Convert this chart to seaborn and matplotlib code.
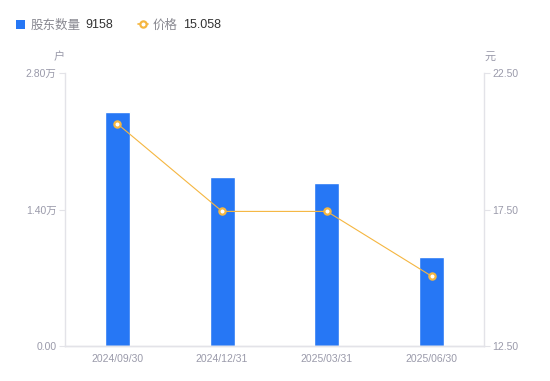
import matplotlib
matplotlib.use("Agg")
import matplotlib.pyplot as plt
import seaborn as sns
import pandas as pd
from matplotlib.patches import Rectangle
from matplotlib.lines import Line2D

# data
dates = ["2024/09/30", "2024/12/31", "2025/03/31", "2025/06/30"]
holders = [24000, 17360, 16750, 9158]
price = [20.64, 17.43, 17.43, 15.058]

bar_color = "#2677F5"
line_color = "#F5B640"
tick_color = "#9A9AAA"
axis_color = "#E3E3E8"

sns.set_style("white")
plt.rcParams["font.family"] = ["Liberation Sans", "Noto Sans CJK SC", "DejaVu Sans"]

df = pd.DataFrame({"date": dates, "holders": holders, "price": price})

fig = plt.figure(figsize=(5.5, 3.81), dpi=100)
ax = fig.add_axes([65 / 550, 35 / 381, 419 / 550, 273 / 381])
ax2 = ax.twinx()

sns.barplot(data=df, x="date", y="holders", color=bar_color, width=0.24,
            saturation=1, ax=ax)
sns.pointplot(data=df, x="date", y="price", color=line_color, ax=ax2,
              markers="o", linewidth=0.8,
              markersize=4.5, markerfacecolor="white",
              markeredgecolor=line_color, markeredgewidth=1.6)

ax.set_xlim(-0.5, 3.5)
ax2.set_xlim(-0.5, 3.5)
ax.set_ylim(0, 28000)
ax2.set_ylim(12.5, 22.5)

ax.set_yticks([0, 14000, 28000])
ax.set_yticklabels(["0.00", "1.40万", "2.80万"])
ax2.set_yticks([12.5, 17.5, 22.5])
ax2.set_yticklabels(["12.50", "17.50", "22.50"])

for a in (ax, ax2):
    a.set_xlabel("")
    a.set_ylabel("")
    a.spines["top"].set_visible(False)
    for s in ("left", "right", "bottom"):
        a.spines[s].set_color(axis_color)
        a.spines[s].set_linewidth(1)
    a.tick_params(axis="y", length=4, width=0.8, color=axis_color,
                  labelcolor=tick_color, labelsize=7.5, pad=2)
    a.tick_params(axis="x", length=0, labelcolor=tick_color, labelsize=7.5, pad=6)
    a.grid(False)

ax2.spines["left"].set_visible(False)
ax.spines["right"].set_visible(False)

# unit labels
fig.text(59 / 550, 1 - 57 / 381, "户", ha="center", va="center",
         color=tick_color, fontsize=8)
fig.text(490 / 550, 1 - 57 / 381, "元", ha="center", va="center",
         color=tick_color, fontsize=8)

# legend
ly = 1 - 24 / 381
ty = 1 - 25.5 / 381
fig.add_artist(Rectangle((16 / 550, ly - 4.5 / 381), 9 / 550, 9 / 381,
                         transform=fig.transFigure, color=bar_color, lw=0))
fig.text(31 / 550, ty, "股东数量", va="center", ha="left", color="#888890", fontsize=9)
fig.text(85 / 550, ty, "9158", va="center", ha="left", color="#333333", fontsize=9)
fig.add_artist(Line2D([138 / 550, 148 / 550], [ly, ly], transform=fig.transFigure,
                      color=line_color, lw=1.2))
fig.add_artist(Line2D([143 / 550], [ly], transform=fig.transFigure,
                      color=line_color, marker="o", ms=4.5, mfc="white",
                      mec=line_color, mew=1.6, ls="none"))
fig.text(153 / 550, ty, "价格", va="center", ha="left", color="#888890", fontsize=9)
fig.text(183 / 550, ty, "15.058", va="center", ha="left", color="#333333", fontsize=9)

fig.savefig("out.png", dpi=100)
